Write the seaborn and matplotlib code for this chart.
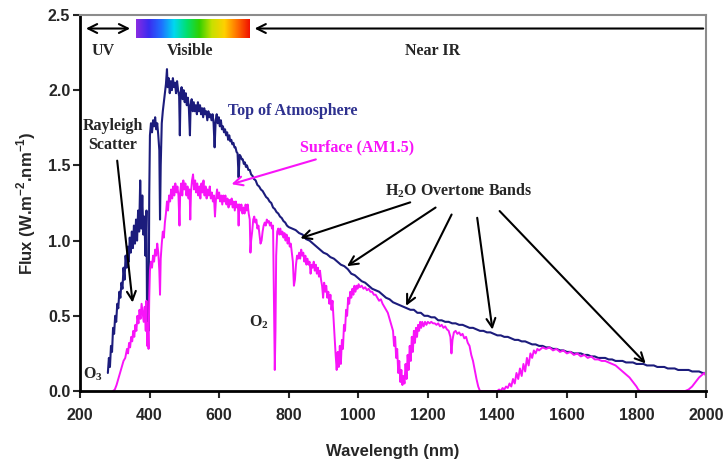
import numpy as np
import matplotlib
matplotlib.use("Agg")
import matplotlib.pyplot as plt
import seaborn as sns
from matplotlib.colors import LinearSegmentedColormap

# Top of atmosphere spectrum
wl_toa_vis = [280, 283, 286, 289, 292, 295, 298, 301, 304, 307,
              310, 313, 316, 319, 322, 325, 328, 331, 334, 337,
              340, 343, 346, 349, 352, 355, 358, 361, 364, 367,
              370, 373, 376, 379, 382, 385, 388, 391, 393, 395,
              397, 399, 401, 404, 407, 410, 413, 416, 419, 422,
              425, 428, 430, 432, 435, 438, 441, 444, 447, 450,
              452, 455, 458, 461, 464, 467, 470, 473, 476, 479,
              482, 485, 487, 489, 492, 495, 498, 501, 504, 507,
              510, 513, 516, 518, 521, 524, 527, 530, 533, 536,
              539, 542, 545, 548, 551, 554, 557, 560, 563, 566,
              569, 572, 575, 578, 581, 584, 587, 590, 593, 596,
              599, 602, 605, 608, 611, 614, 617, 620, 623, 626,
              629, 632, 635, 638, 641, 644, 647, 650, 653, 656,
              659, 662, 665, 668, 671, 674, 677, 680, 684, 688,
              692, 696, 700, 705, 710, 715, 720, 725, 730, 735,
              740, 745, 750, 755, 760, 765, 770, 775, 780, 785,
              790, 795]
flux_toa_vis = [0.12, 0.22, 0.16, 0.30, 0.26, 0.42, 0.38, 0.50, 0.46, 0.58,
                0.55, 0.66, 0.62, 0.72, 0.68, 0.82, 0.74, 0.90, 0.82, 0.96,
                0.86, 1.02, 0.92, 1.06, 0.95, 1.10, 0.98, 1.14, 1.00, 1.20,
                1.06, 1.40, 1.08, 1.30, 1.04, 1.16, 0.90, 1.20, 0.35, 0.80,
                0.40, 1.30, 1.70, 1.78, 1.72, 1.80, 1.76, 1.82, 1.74, 1.78,
                1.70, 1.60, 1.14, 1.50, 1.78, 1.86, 1.92, 1.98, 2.04, 2.14,
                2.02, 2.08, 1.98, 2.06, 2.00, 2.08, 2.02, 2.05, 1.98, 2.06,
                2.00, 1.96, 1.70, 1.98, 2.02, 1.94, 2.00, 1.92, 1.98, 1.90,
                1.95, 1.88, 1.70, 1.90, 1.94, 1.86, 1.92, 1.86, 1.90, 1.84,
                1.92, 1.86, 1.90, 1.84, 1.88, 1.82, 1.88, 1.84, 1.86, 1.80,
                1.86, 1.82, 1.84, 1.80, 1.84, 1.78, 1.62, 1.80, 1.84, 1.78,
                1.82, 1.76, 1.80, 1.74, 1.76, 1.72, 1.74, 1.70, 1.72, 1.67,
                1.70, 1.66, 1.67, 1.64, 1.65, 1.62, 1.62, 1.59, 1.58, 1.42,
                1.57, 1.56, 1.54, 1.54, 1.51, 1.52, 1.49, 1.50, 1.47, 1.47,
                1.44, 1.43, 1.41, 1.40, 1.37, 1.36, 1.34, 1.33, 1.31, 1.29,
                1.28, 1.26, 1.25, 1.22, 1.21, 1.19, 1.18, 1.16, 1.15, 1.13,
                1.12, 1.10]

wl_toa_ir = list(range(800, 2001, 10))
flux_toa_ir = [1.09, 1.08, 1.07, 1.05, 1.04, 1.01, 1.00, 0.98, 0.96, 0.94,
               0.92, 0.91, 0.89, 0.88, 0.86, 0.84, 0.83, 0.81, 0.78, 0.77,
               0.75, 0.73, 0.72, 0.70, 0.68, 0.67, 0.66, 0.64, 0.62, 0.61,
               0.59, 0.58, 0.57, 0.56, 0.55, 0.54, 0.54, 0.52, 0.52, 0.50,
               0.50, 0.49, 0.49, 0.47, 0.47, 0.46, 0.46, 0.45, 0.45, 0.44,
               0.44, 0.43, 0.42, 0.42, 0.41, 0.40, 0.40, 0.39, 0.39, 0.38,
               0.37, 0.37, 0.36, 0.36, 0.35, 0.34, 0.34, 0.33, 0.33, 0.32,
               0.31, 0.31, 0.30, 0.30, 0.29, 0.29, 0.28, 0.28, 0.27, 0.27,
               0.26, 0.26, 0.25, 0.25, 0.25, 0.24, 0.24, 0.23, 0.23, 0.22,
               0.22, 0.22, 0.21, 0.21, 0.20, 0.20, 0.20, 0.19, 0.19, 0.19,
               0.18, 0.18, 0.18, 0.17, 0.17, 0.17, 0.16, 0.16, 0.16, 0.15,
               0.15, 0.15, 0.14, 0.14, 0.14, 0.14, 0.13, 0.13, 0.13, 0.12,
               0.12]

# Surface (AM1.5) spectrum
wl_surf = [295, 300, 305, 310, 315, 320, 325, 330, 335, 338,
           341, 344, 347, 350, 353, 356, 359, 362, 365, 368,
           371, 374, 377, 380, 383, 386, 389, 391, 393, 395,
           397, 399, 401, 404, 407, 410, 413, 416, 419, 422,
           425, 428, 430, 432, 435, 438, 441, 444, 447, 450,
           453, 456, 459, 462, 465, 468, 471, 474, 477, 480,
           483, 486, 488, 491, 494, 497, 500, 503, 506, 509,
           512, 515, 517, 519, 522, 525, 528, 531, 534, 537,
           540, 543, 546, 549, 552, 555, 558, 561, 564, 567,
           570, 573, 576, 579, 582, 585, 588, 591, 594, 597,
           600, 603, 606, 609, 612, 615, 618, 621, 624, 627,
           630, 633, 636, 639, 642, 645, 648, 651, 654, 656,
           658, 661, 664, 667, 670, 673, 676, 679, 682, 685,
           688, 690, 692, 695, 698, 701, 704, 707, 710, 713,
           716, 719, 722, 725, 728, 731, 734, 737, 740, 743,
           746, 749, 752, 755, 758, 760, 762, 764, 767, 770,
           773, 776, 779, 782, 785, 788, 791, 794, 797, 800,
           803, 806, 809, 812, 815, 818, 821, 824, 827, 830,
           833, 836, 839, 842, 845, 848, 851, 854, 857, 860,
           863, 866, 869, 872, 875, 878, 881, 884, 887, 890,
           893, 896, 899, 902, 905, 908, 911, 914, 917, 920,
           923, 926, 929, 932, 935, 938, 941, 944, 947, 950,
           953, 956, 959, 962, 965, 968, 971, 974, 977, 980,
           983, 986, 989, 992, 995, 998, 1001, 1005, 1010, 1015,
           1020, 1025, 1030, 1035, 1040, 1045, 1050, 1055, 1060, 1065,
           1070, 1075, 1080, 1085, 1090, 1095, 1100, 1103, 1106, 1109,
           1112, 1115, 1118, 1121, 1124, 1127, 1130, 1133, 1136, 1139,
           1142, 1145, 1148, 1151, 1154, 1157, 1160, 1163, 1166, 1169,
           1172, 1175, 1178, 1181, 1184, 1188, 1192, 1196, 1200, 1205,
           1210, 1215, 1220, 1225, 1230, 1235, 1240, 1245, 1250, 1255,
           1260, 1265, 1268, 1271, 1275, 1280, 1285, 1290, 1295, 1300,
           1305, 1310, 1315, 1320, 1325, 1330, 1335, 1340, 1345, 1350,
           1360, 1370, 1380, 1390, 1400, 1405, 1410, 1415, 1420, 1425,
           1430, 1435, 1440, 1445, 1450, 1455, 1460, 1465, 1470, 1475,
           1480, 1485, 1490, 1495, 1500, 1505, 1510, 1515, 1520, 1530,
           1540, 1550, 1560, 1570, 1580, 1590, 1600, 1610, 1620, 1630,
           1640, 1650, 1660, 1670, 1680, 1690, 1700, 1710, 1720, 1730,
           1740, 1750, 1760, 1770, 1780, 1790, 1800, 1805, 1810, 1850,
           1900, 1940, 1950, 1960, 1970, 1980, 1990, 1995, 2000]
flux_surf = [0.00, 0.01, 0.04, 0.08, 0.12, 0.16, 0.20, 0.22, 0.28, 0.25,
             0.32, 0.29, 0.36, 0.33, 0.40, 0.36, 0.44, 0.40, 0.50, 0.45,
             0.54, 0.48, 0.58, 0.52, 0.46, 0.56, 0.40, 0.60, 0.30, 0.45,
             0.28, 0.62, 0.80, 0.86, 0.82, 0.90, 0.86, 0.94, 0.90, 0.98,
             0.92, 0.80, 0.64, 0.88, 0.98, 1.06, 1.02, 1.12, 1.18, 1.26,
             1.20, 1.30, 1.26, 1.34, 1.28, 1.36, 1.30, 1.38, 1.32, 1.36,
             1.30, 1.10, 1.32, 1.38, 1.30, 1.40, 1.34, 1.38, 1.30, 1.36,
             1.28, 1.34, 1.14, 1.32, 1.40, 1.44, 1.34, 1.40, 1.32, 1.38,
             1.30, 1.36, 1.28, 1.38, 1.32, 1.40, 1.30, 1.36, 1.28, 1.34,
             1.30, 1.36, 1.28, 1.32, 1.26, 1.30, 1.16, 1.28, 1.34, 1.28,
             1.32, 1.26, 1.30, 1.24, 1.30, 1.26, 1.30, 1.24, 1.28, 1.22,
             1.27, 1.24, 1.28, 1.22, 1.26, 1.20, 1.26, 1.22, 1.24, 1.10,
             1.24, 1.20, 1.24, 1.18, 1.22, 1.18, 1.24, 1.20, 1.24, 1.18,
             1.14, 0.92, 1.00, 1.06, 1.14, 1.16, 1.12, 1.14, 1.08, 1.10,
             1.04, 0.98, 1.00, 1.06, 1.10, 1.12, 1.10, 1.14, 1.12, 1.13,
             1.10, 1.12, 1.08, 1.10, 0.50, 0.14, 0.40, 0.90, 1.06, 1.08,
             1.04, 1.08, 1.04, 1.06, 1.02, 1.05, 1.00, 1.04, 0.98, 1.02,
             0.96, 0.98, 0.92, 0.86, 0.70, 0.74, 0.84, 0.90, 0.88, 0.92,
             0.88, 0.94, 0.90, 0.92, 0.86, 0.90, 0.84, 0.88, 0.84, 0.86,
             0.78, 0.84, 0.82, 0.86, 0.80, 0.84, 0.78, 0.82, 0.76, 0.80,
             0.74, 0.70, 0.62, 0.72, 0.66, 0.70, 0.62, 0.66, 0.58, 0.64,
             0.54, 0.60, 0.48, 0.36, 0.24, 0.14, 0.26, 0.16, 0.30, 0.18,
             0.34, 0.28, 0.44, 0.40, 0.54, 0.50, 0.62, 0.58, 0.66, 0.62,
             0.68, 0.64, 0.70, 0.66, 0.70, 0.68, 0.71, 0.69, 0.70, 0.68,
             0.69, 0.67, 0.68, 0.66, 0.66, 0.64, 0.64, 0.62, 0.60, 0.61,
             0.58, 0.56, 0.54, 0.52, 0.48, 0.44, 0.40, 0.30, 0.36, 0.22,
             0.28, 0.12, 0.20, 0.06, 0.14, 0.04, 0.10, 0.05, 0.18, 0.08,
             0.24, 0.14, 0.30, 0.20, 0.36, 0.26, 0.40, 0.32, 0.42, 0.36,
             0.44, 0.40, 0.46, 0.42, 0.46, 0.43, 0.46, 0.44, 0.46, 0.45,
             0.46, 0.45, 0.45, 0.44, 0.45, 0.43, 0.44, 0.42, 0.43, 0.41,
             0.40, 0.36, 0.25, 0.34, 0.39, 0.40, 0.38, 0.39, 0.37, 0.38,
             0.35, 0.36, 0.32, 0.30, 0.24, 0.20, 0.14, 0.08, 0.03, 0.00,
             0.00, 0.00, 0.00, 0.00, 0.00, 0.01, 0.00, 0.02, 0.01, 0.03,
             0.02, 0.05, 0.03, 0.08, 0.05, 0.12, 0.08, 0.15, 0.10, 0.18,
             0.13, 0.22, 0.17, 0.25, 0.22, 0.27, 0.25, 0.28, 0.27, 0.29,
             0.28, 0.29, 0.27, 0.28, 0.26, 0.27, 0.25, 0.26, 0.24, 0.25,
             0.23, 0.24, 0.22, 0.23, 0.21, 0.21, 0.20, 0.20, 0.19, 0.18,
             0.17, 0.15, 0.13, 0.11, 0.09, 0.06, 0.03, 0.01, 0.00, 0.00,
             0.00, 0.00, 0.01, 0.03, 0.06, 0.09, 0.11, 0.12, 0.10]

wl_toa = wl_toa_vis + wl_toa_ir
flux_toa = flux_toa_vis + flux_toa_ir

navy = "#1c1c7c"
magenta = "#f814f8"

sns.set_style("ticks")
plt.rcParams["font.family"] = ["Liberation Sans", "DejaVu Sans"]

fig = plt.figure(figsize=(7.23, 4.61), dpi=100)
ax = fig.add_axes([0.1107, 0.1518, 0.8658, 0.8157])

sns.lineplot(x=wl_toa, y=flux_toa, color=navy, lw=1.5, ax=ax, sort=False)
sns.lineplot(x=wl_surf, y=flux_surf, color=magenta, lw=1.4, ax=ax, sort=False)

# visible colour strip
spec = LinearSegmentedColormap.from_list(
    "vis", ["#8a2be2", "#3a2cf0", "#1f70ff", "#00d8f0", "#00e070",
            "#30d000", "#c8e000", "#ffd000", "#ff7000", "#f01000"])
ax.imshow(np.linspace(0, 1, 256).reshape(1, -1), cmap=spec, aspect="auto",
          extent=(361, 688, 2.35, 2.47), zorder=3)

serif = dict(family=["Liberation Serif", "DejaVu Serif"], fontweight="bold", fontsize=11.5)
arr = dict(arrowstyle="->", color="black", lw=1.5, mutation_scale=16)

ax.annotate("", xy=(209, 2.41), xytext=(352, 2.41),
            arrowprops=dict(arrowstyle="<->", color="black", lw=1.5, mutation_scale=16))
ax.annotate("", xy=(694, 2.41), xytext=(2000, 2.41), arrowprops=arr)
ax.text(266, 2.26, "UV", ha="center", va="center", **serif)
ax.text(516, 2.26, "Visible", ha="center", va="center", **serif)
ax.text(1214, 2.26, "Near IR", ha="center", va="center", **serif)

ax.text(625, 1.86, "Top of Atmosphere", ha="left", va="center", color="#2e318f", **serif)
ax.annotate("Surface (AM1.5)", xy=(628, 1.37), xytext=(832, 1.62),
            ha="left", va="center", color=magenta,
            arrowprops=dict(arrowstyle="->", color=magenta, lw=1.5, mutation_scale=16), **serif)

ax.text(295, 1.70, "Rayleigh\nScatter", ha="center", va="center", linespacing=1.3, **serif)
ax.annotate("", xy=(352, 0.57), xytext=(306, 1.55), arrowprops=arr)

ax.text(1076, 1.33, r"H$_\mathregular{2}$O Overtone Bands", ha="left", va="center", **serif)
h2o_tails = [(1157, 1.26), (1229, 1.23), (1272, 1.19), (1341, 1.17), (1401, 1.21)]
h2o_heads = [(826, 1.01), (961, 0.82), (1134, 0.55), (1387, 0.39), (1832, 0.17)]
for tail, head in zip(h2o_tails, h2o_heads):
    ax.annotate("", xy=head, xytext=tail, arrowprops=arr)

ax.text(209, 0.11, r"O$_\mathregular{3}$", ha="left", va="center", **serif)
ax.text(686, 0.46, r"O$_\mathregular{2}$", ha="left", va="center", **serif)

ax.set_xlim(200, 2000)
ax.set_ylim(0, 2.5)
ax.set_xticks(range(200, 2001, 200))
ax.set_yticks([0.0, 0.5, 1.0, 1.5, 2.0, 2.5])
ax.set_yticklabels(["0.0", "0.5", "1.0", "1.5", "2.0", "2.5"])
ax.tick_params(labelsize=11.5, width=1.5, length=5, direction="out")
ax.tick_params(axis="x", pad=7)
ax.tick_params(axis="y", pad=2)
for lab in ax.get_xticklabels() + ax.get_yticklabels():
    lab.set_fontweight("bold")
ax.set_xlabel("Wavelength (nm)", fontsize=12, fontweight="bold", labelpad=15)
ax.set_ylabel(r"Flux (W.m$^\mathregular{-2}$.nm$^\mathregular{-1}$)", fontsize=12,
              fontweight="bold", labelpad=7)

for side in ["left", "bottom"]:
    ax.spines[side].set_color("black")
    ax.spines[side].set_linewidth(2)
for side in ["top", "right"]:
    ax.spines[side].set_visible(True)
    ax.spines[side].set_color("#8c8c8c")
    ax.spines[side].set_linewidth(1.5)

fig.savefig("out.png", dpi=100)
